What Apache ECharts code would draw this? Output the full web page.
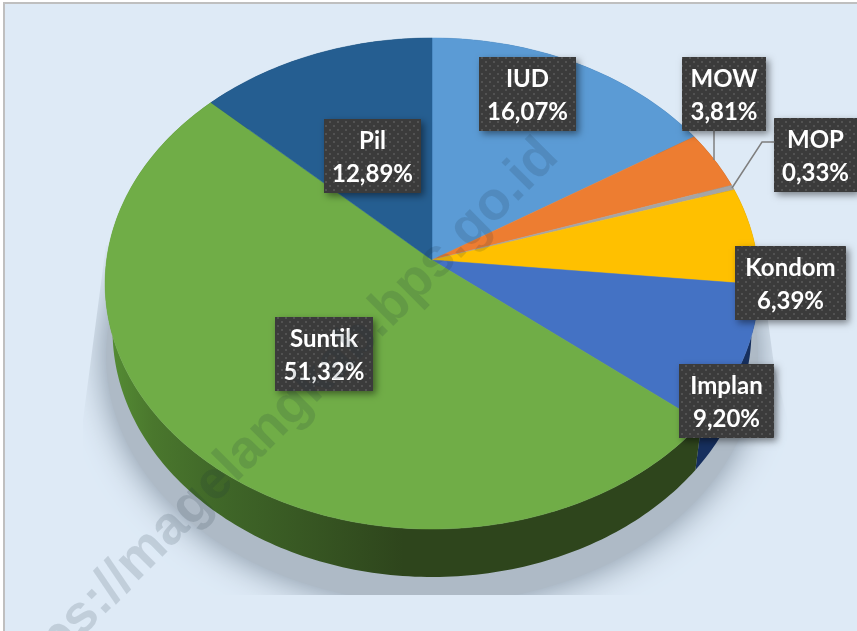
<!DOCTYPE html>
<html>
<head>
<meta charset="utf-8">
<style>
  html, body { margin: 0; padding: 0; background: #fff; }
  #chart { width: 857px; height: 631px; }
</style>
</head>
<body>
<div id="chart"></div>
<script src="https://cdn.jsdelivr.net/npm/echarts@6/dist/echarts.min.js"></script>
<script>
var categories = ['IUD', 'MOW', 'MOP', 'Kondom', 'Implan', 'Suntik', 'Pil']
var values = [16.07, 3.81, 0.33, 6.39, 9.2, 51.32, 12.89]

var faceColors = ['#5b9bd5', '#ed7d31', '#a5a5a5', '#ffc000', '#4472c4', '#70ad47', '#255e91']
var wallColors = ['#2f5f8c', '#8c4a1c', '#636363', '#997300', '#162f5e', null, '#163a5a']

// label boxes as placed by hand in the original: x, y, w, h
var labelBoxes = [
  [479, 57, 97, 74],
  [682, 57, 84, 74],
  [774, 118, 83, 74],
  [735, 246, 111, 74],
  [679, 364, 95, 74],
  [275, 317, 98, 74],
  [324, 119, 97, 74]
]
var leaderLines = [
  [[714, 131], [714, 160]],
  [[774, 142], [762, 142], [732, 188]]
]

var total = values.reduce(function (a, b) { return a + b }, 0)
var starts = []
values.reduce(function (acc, v, i) {
  starts[i] = acc
  return acc + v
}, 0)

// perspective view of the disc: top face and the smaller bottom face
var topDisc = { cx: 432, w: 325.4, a: 218.4, b: 260, c: -0.0957 }
var bottomDisc = { cx: 432, w: 318, a: 215, b: 306.8, c: -0.0957 }

function project(disc, deg) {
  var rad = deg * Math.PI / 180
  var u = Math.sin(rad)
  var v = -Math.cos(rad)
  var k = 1 + disc.c * v
  return [disc.cx + disc.w * u / k, (disc.a * v + disc.b) / k]
}

function arc(disc, from, to) {
  var pts = []
  var n = Math.max(2, Math.ceil(Math.abs(to - from)))
  for (var i = 0; i <= n; i++) {
    pts.push(project(disc, from + (to - from) * i / n))
  }
  return pts
}

function sliceAngles(i) {
  return [starts[i] / total * 360, (starts[i] + values[i]) / total * 360]
}

function renderShadow() {
  var pts = arc(bottomDisc, 0, 360).map(function (p) {
    return [432 + (p[0] - 432) * 1.02, p[1] + 26]
  })
  return {
    type: 'polygon',
    shape: { points: pts },
    style: { fill: '#aebac6', shadowBlur: 36, shadowColor: 'rgba(125,140,155,1)' },
    clipPath: {
      type: 'polygon',
      shape: { points: [[106, 245], [83, 420], [83, 595], [790, 595], [790, 430], [774, 365], [757, 240]] }
    }
  }
}

function renderWall(params) {
  var i = params.dataIndex
  var a = sliceAngles(i)
  var pts = arc(bottomDisc, a[0], a[1]).concat(arc(topDisc, a[1], a[0]))
  var fill = wallColors[i]
  if (!fill) {
    // the big slice runs from the dark front to the lighter left edge
    fill = new echarts.graphic.LinearGradient(0, 0, 1, 0, [
      { offset: 0, color: '#568f35' },
      { offset: 0.08, color: '#4a772d' },
      { offset: 0.2, color: '#3f6628' },
      { offset: 0.5, color: '#2e451c' },
      { offset: 1, color: '#2e451c' }
    ])
  }
  return { type: 'polygon', shape: { points: pts }, style: { fill: fill } }
}

function renderFace(params) {
  var i = params.dataIndex
  var a = sliceAngles(i)
  var pts = [[topDisc.cx, topDisc.b]].concat(arc(topDisc, a[0], a[1]))
  return {
    type: 'polygon',
    shape: { points: pts },
    style: { fill: faceColors[i], stroke: faceColors[i], lineWidth: 0.5 }
  }
}

// dotted fill of the label boxes
var tile = document.createElement('canvas')
tile.width = 8
tile.height = 8
var tileCtx = tile.getContext('2d')
tileCtx.fillStyle = '#3b3b3b'
tileCtx.fillRect(0, 0, 8, 8)
tileCtx.fillStyle = '#525252'
tileCtx.fillRect(1, 1, 2, 2)
tileCtx.fillRect(5, 5, 2, 2)

function renderLabel(params) {
  var i = params.dataIndex
  var box = labelBoxes[i]
  var text = categories[i] + '\n' + values[i].toFixed(2).replace('.', ',') + '%'
  return {
    type: 'group',
    children: [
      {
        type: 'rect',
        shape: { x: box[0], y: box[1], width: box[2], height: box[3] },
        style: {
          fill: '#3b3b3b',
          shadowBlur: 7,
          shadowOffsetX: 3,
          shadowOffsetY: 3,
          shadowColor: 'rgba(0,0,0,0.45)'
        }
      },
      {
        type: 'rect',
        shape: { x: box[0], y: box[1], width: box[2], height: box[3] },
        style: { fill: { image: tile, repeat: 'repeat' } }
      },
      {
        type: 'text',
        x: box[0] + box[2] / 2,
        y: box[1] + box[3] / 2 + 2,
        style: {
          text: text,
          fill: '#fff',
          font: 'bold 24px Lato, "Noto Sans", sans-serif',
          lineHeight: 33,
          align: 'center',
          verticalAlign: 'middle'
        }
      }
    ]
  }
}

function renderLeader(params) {
  return {
    type: 'polyline',
    shape: { points: leaderLines[params.dataIndex] },
    style: { stroke: '#7f7f7f', lineWidth: 1.5, fill: 'none' }
  }
}

function customSeries(render, data, z) {
  return {
    type: 'custom',
    coordinateSystem: 'none',
    renderItem: render,
    data: data,
    z: z,
    silent: true,
    animation: false
  }
}

var chart = echarts.init(document.getElementById('chart'), null, { renderer: 'canvas' })
chart.setOption({
  backgroundColor: '#fff',
  animation: false,
  graphic: [
    {
      type: 'rect',
      z: 0,
      shape: { x: 4, y: 3, width: 860, height: 640 },
      style: { fill: '#deeaf6', stroke: '#bfbfbf', lineWidth: 2 }
    },
    {
      type: 'text',
      z: 10,
      x: 274,
      y: 424,
      rotation: Math.PI / 4,
      silent: true,
      style: {
        text: 'https://magelangkab.bps.go.id',
        font: 'bold 54px "Liberation Sans", Arial, sans-serif',
        fill: 'rgba(30,50,60,0.15)',
        align: 'center',
        verticalAlign: 'middle'
      }
    }
  ],
  series: [
    customSeries(renderShadow, [0], 2),
    customSeries(renderWall, values, 3),
    customSeries(renderFace, values, 4),
    customSeries(renderLeader, leaderLines.map(function (l, i) { return i }), 5),
    customSeries(renderLabel, values, 6)
  ]
})
</script>
</body>
</html>
